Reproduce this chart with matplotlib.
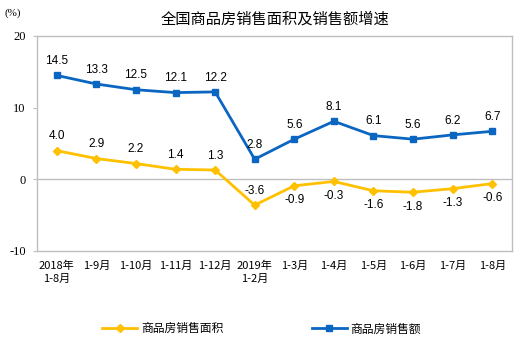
import matplotlib
matplotlib.use("Agg")
import matplotlib.pyplot as plt

plt.rcParams['font.family'] = ['Noto Sans CJK SC', 'DejaVu Sans']

categories = ["2018年\n1-8月", "1-9月", "1-10月", "1-11月", "1-12月", "2019年\n1-2月",
              "1-3月", "1-4月", "1-5月", "1-6月", "1-7月", "1-8月"]
area_growth = [4.0, 2.9, 2.2, 1.4, 1.3, -3.6, -0.9, -0.3, -1.6, -1.8, -1.3, -0.6]
sales_growth = [14.5, 13.3, 12.5, 12.1, 12.2, 2.8, 5.6, 8.1, 6.1, 5.6, 6.2, 6.7]
yticks = [-10, 0, 10, 20]

yellow = "#FFC000"
blue = "#0B66C2"

fig = plt.figure(figsize=(5.23, 3.46), dpi=100)
ax = fig.add_axes([0.0707, 0.2746, 0.9083, 0.6214])

x = list(range(len(categories)))
ax.plot(x, area_growth, color=yellow, lw=2, marker="D", ms=4, label="商品房销售面积")
ax.plot(x, sales_growth, color=blue, lw=2, marker="s", ms=4.5, label="商品房销售额")

ax.set_xlim(-0.5, len(categories) - 0.5)
ax.set_ylim(-10, 20)
ax.axhline(0, color="#BFBFBF", lw=1, zorder=0)

for s in ax.spines.values():
    s.set_color("#BFBFBF")
    s.set_linewidth(1)

ax.set_yticks(yticks)
ax.set_yticklabels([str(v) for v in yticks], family="Liberation Serif", fontsize=9)
ax.tick_params(axis="y", length=3, color="#BFBFBF", pad=5)
ax.set_xticks(x)
ax.set_xticklabels(categories, fontsize=8, linespacing=1.3)
ax.tick_params(axis="x", length=0, pad=7)

for i, v in enumerate(sales_growth):
    ax.annotate(f"{v:.1f}", (i, v), xytext=(0, 6), textcoords="offset points",
                ha="center", va="bottom", fontsize=8.5, family="Liberation Sans")
for i, v in enumerate(area_growth):
    above = i <= 5
    ax.annotate(f"{v:.1f}", (i, v), xytext=(0, 6 if above else -6), textcoords="offset points",
                ha="center", va="bottom" if above else "top", fontsize=8.5, family="Liberation Sans")

fig.text(0.008, 0.962, "(%)", fontsize=8, family="Liberation Serif", ha="left", va="center")
fig.text(0.525, 0.945, "全国商品房销售面积及销售额增速", fontsize=11, ha="center", va="center")

fig.legend(loc="lower center", bbox_to_anchor=(0.5, 0.0), ncol=2, frameon=False,
           fontsize=8.5, handlelength=3, handletextpad=0.3, columnspacing=7.5)

fig.savefig("out.png", dpi=100)
